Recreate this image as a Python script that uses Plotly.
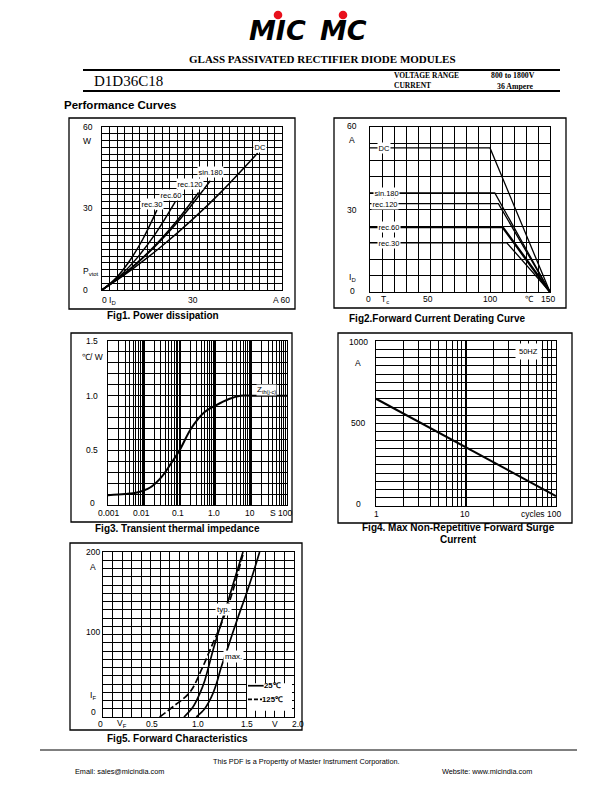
import numpy as np
import plotly.graph_objects as go

# The page body has an 8 px margin, so the figure starts at (8, 8) in the window.
OFF = 8
FW, FH = 612 - OFF, 792 - OFF


def px(v):
    return (v - OFF) / FW


def py(v):
    return 1 - (v - OFF) / FH


# ===================== DATA =====================
# Fig1 - Power dissipation: Pvtot (W) vs ID (A)
f1_dc_i = [0, 5, 10, 20, 30, 40, 51.9]
f1_dc_p = [0, 3.7, 7.6, 16.2, 25.8, 36.4, 50.4]
f1_sin180_i = [0, 9, 18, 27, 36.1]
f1_sin180_p = [0, 7.3, 16.4, 27.3, 40.2]
f1_rec120_i = [0, 8, 16, 24, 32.2]
f1_rec120_p = [0, 6.5, 14.5, 24.2, 35.9]
f1_rec60_i = [0, 6, 12, 18, 24.4]
f1_rec60_p = [0, 5.2, 12.2, 21.0, 32.4]
f1_rec30_i = [0, 4.5, 9, 13.5, 18.3]
f1_rec30_p = [0, 4.2, 10.4, 18.5, 29.4]
f1_names = ["rec.30", "rec.60", "rec.120", "sin.180", "DC"]

# Fig2 - Forward current derating: ID (A) vs Tc (C)
f2_dc_t = [0, 100, 150]
f2_dc_i = [52.4, 52.4, 0]
f2_sin180_t = [0, 104, 150]
f2_sin180_i = [36.0, 36.0, 0]
f2_rec120_t = [0, 107, 150]
f2_rec120_i = [32.1, 32.1, 0]
f2_rec60_t = [0, 110.5, 150]
f2_rec60_i = [23.6, 23.6, 0]
f2_rec30_t = [0, 114, 150]
f2_rec30_i = [17.9, 17.9, 0]
f2_names = ["DC", "sin.180", "rec.120", "rec.60", "rec.30"]

# Fig3 - Transient thermal impedance Zth(j-c) (C/W) vs t (s)
f3_t = [0.001, 0.003, 0.0065, 0.015, 0.032, 0.055, 0.1, 0.21, 0.5, 1.0, 2.4, 5, 10, 100]
f3_z = [0.09, 0.10, 0.115, 0.16, 0.26, 0.37, 0.5, 0.7, 0.85, 0.91, 0.97, 1.0, 1.0, 1.0]

# Fig4 - Max non-repetitive forward surge current (A) vs cycles (50 Hz)
f4_n = [1, 2, 5, 10, 20, 50, 100]
f4_i = [650, 561, 444, 355, 266, 149, 60]

# Fig5 - Forward characteristics IF (A) vs VF (V)
f5_typ125_v = [0.593, 0.75, 0.91, 1.03, 1.134, 1.239, 1.344, 1.449, 1.473]
f5_typ125_i = [0, 14, 30, 57, 85, 113, 147, 190, 200]
f5_typ25_v = [0.848, 0.942, 1.012, 1.065, 1.106, 1.152, 1.204, 1.257, 1.326, 1.396, 1.466]
f5_typ25_i = [0, 12, 28, 44, 61, 81, 101, 121, 147, 174, 200]
f5_max25_v = [0.977, 1.065, 1.134, 1.187, 1.229, 1.274, 1.316, 1.361, 1.414, 1.501, 1.571, 1.64]
f5_max25_i = [0, 10, 24, 40, 57, 73, 87, 103, 121, 149.5, 174, 200]
f5_legend = ["25\u2103", "125\u2103"]

# Tick labels (text, axis value where it sits)
f1_xtick_text = ["0 I<sub>D</sub>", "30", "A 60"]
f1_xtick_pos = [2.3, 30.2, 59.7]
f1_ytick_text = ["60", "W", "30", "P<sub>vtot</sub>", "0"]
f1_ytick_pos = [60, 54.8, 30.2, 6.8, 0]

f2_xtick_text = ["0", "T<sub>c</sub>", "50", "100", "\u2103", "150"]
f2_xtick_pos = [0, 12.5, 48.6, 100, 132.5, 148.6]
f2_ytick_text = ["60", "A", "30", "I<sub>D</sub>", "0"]
f2_ytick_pos = [60, 55.3, 29.8, 5.3, 0.4]

f3_xtick_text = ["0.001", "0.01", "0.1", "1.0", "10", "S 100"]
f3_xtick_pos = [0.00105, 0.0088, 0.088, 0.9, 9.0, 70]
f3_ytick_text = ["1.5", "\u2103/ W", "1.0", "0.5", "0"]
f3_ytick_pos = [1.5, 1.35, 1.0, 0.5, 0.02]

f4_xtick_text = ["1", "10", "cycles 100"]
f4_xtick_pos = [1, 9.7, 67.8]
f4_ytick_text = ["1000", "A", "500", "0"]
f4_ytick_pos = [996, 865, 505, 12]

f5_xtick_text = ["0", "V<sub>F</sub>", "0.5", "1.0", "1.5", "V", "2.0"]
f5_xtick_pos = [0, 0.196, 0.51, 0.998, 1.505, 1.80, 2.0]
f5_ytick_text = ["200", "A", "100", "I<sub>F</sub>", "0"]
f5_ytick_pos = [200, 182, 103, 26.6, 6.4]

# ===================== FIGURE =====================
SANS = "Liberation Sans"
SERIF = "Liberation Serif"
TICK = 8.5
LAB = 7.5
CAP = 10
fig = go.Figure()


def curve(x, y, ax, width=1.5, dash="solid", shape="spline"):
    fig.add_trace(go.Scatter(
        x=x, y=y, mode="lines", xaxis="x" + ax, yaxis="y" + ax,
        line=dict(color="black", width=width, dash=dash, shape=shape),
        showlegend=False, hoverinfo="skip"))


# Fig1
curve(f1_dc_i, f1_dc_p, "")
curve(f1_sin180_i, f1_sin180_p, "")
curve(f1_rec120_i, f1_rec120_p, "")
curve(f1_rec60_i, f1_rec60_p, "")
curve(f1_rec30_i, f1_rec30_p, "")
# Fig2
curve(f2_dc_t, f2_dc_i, "2", 1.3, shape="linear")
curve(f2_sin180_t, f2_sin180_i, "2", 1.3, shape="linear")
curve(f2_rec120_t, f2_rec120_i, "2", 1.3, shape="linear")
curve(f2_rec60_t, f2_rec60_i, "2", 2.4, shape="linear")
curve(f2_rec30_t, f2_rec30_i, "2", 1.3, shape="linear")
# Fig3
curve(f3_t, f3_z, "3", 2)
# Fig4
curve(f4_n, f4_i, "4", 2, shape="linear")
# Fig5
curve(f5_typ125_v, f5_typ125_i, "5", 1.7, dash="7px,3px")
curve(f5_typ25_v, f5_typ25_i, "5", 1.7)
curve(f5_max25_v, f5_max25_i, "5", 1.7)


def dom_x(a, b):
    return [px(a), px(b)]


def dom_y(top, bottom):
    return [py(bottom), py(top)]


def lin_axis(domain, rng, step, anchor):
    return dict(domain=domain, range=rng, anchor=anchor,
                tickmode="array",
                tickvals=list(np.arange(rng[0], rng[1] + step / 2, step)),
                showticklabels=False, ticks="", showgrid=True,
                gridcolor="black", gridwidth=1, zeroline=False,
                showline=True, linecolor="black", linewidth=1, mirror=True,
                fixedrange=True)


def log_axis(domain, d0, d1, anchor):
    majors = [10.0 ** d for d in range(d0, d1 + 1)]
    minors = [k * 10.0 ** d for d in range(d0, d1) for k in range(2, 10)]
    return dict(domain=domain, type="log", range=[d0, d1], anchor=anchor,
                tickmode="array", tickvals=majors, showticklabels=False,
                ticks="", showgrid=True, gridcolor="black", gridwidth=1.6,
                zeroline=False, showline=True, linecolor="black",
                linewidth=1, mirror=True, fixedrange=True,
                minor=dict(tickmode="array", tickvals=minors, showgrid=True,
                           gridcolor="black", gridwidth=1, ticks=""))


layout_axes = dict(
    xaxis=lin_axis(dom_x(102, 282), [0, 60], 2.5, "y"),
    yaxis=lin_axis(dom_y(127, 290), [0, 60], 2.5, "x"),
    xaxis2=lin_axis(dom_x(370, 550), [0, 150], 10, "y2"),
    yaxis2=lin_axis(dom_y(127, 292), [0, 60], 6, "x2"),
    xaxis3=log_axis(dom_x(108, 287), -3, 2, "y3"),
    yaxis3=lin_axis(dom_y(341, 505), [0, 1.5], 0.1, "x3"),
    xaxis4=log_axis(dom_x(376, 556), 0, 2, "y4"),
    yaxis4=lin_axis(dom_y(341, 506), [0, 1000], 50, "x4"),
    xaxis5=lin_axis(dom_x(103, 294), [0, 2.0], 0.1, "y5"),
    yaxis5=lin_axis(dom_y(552, 717), [0, 200], 10, "x5"),
)

ann = []


def text(x, y, s, size=8, xref="paper", yref="paper", xanchor="center",
         yanchor="middle", family=SANS, bg=None, pad=1, xshift=0, yshift=0):
    d = dict(x=x, y=y, text=s, xref=xref, yref=yref, xanchor=xanchor,
             yanchor=yanchor, showarrow=False, borderpad=pad,
             xshift=xshift, yshift=yshift,
             font=dict(family=family, size=size, color="black"))
    if bg:
        d["bgcolor"] = bg
    ann.append(d)


# ---- header ----
text(px(277), py(31), "<b><i>MIC</i></b>", 27, family="DejaVu Sans")
text(px(343), py(31), "<b><i>MC</i></b>", 27, family="DejaVu Sans")
text(px(322), py(59), "<b>GLASS PASSIVATED RECTIFIER DIODE MODULES</b>", 11, family=SERIF)
text(px(92), py(81), "D1D36C18", 15, xanchor="left", family=SERIF)
text(px(392), py(75), "<b>VOLTAGE RANGE</b>", 7.5, xanchor="left", family=SERIF)
text(px(392), py(85.5), "<b>CURRENT</b>", 7.5, xanchor="left", family=SERIF)
text(px(513), py(75), "<b>800 to 1800V</b>", 7.8, family=SERIF)
text(px(515), py(86), "<b>36 Ampere</b>", 7.8, family=SERIF)
text(px(62), py(105), "<b>Performance Curves</b>", 11.5, xanchor="left")

# ---- footer ----
text(px(306), py(761), "This PDF is a Propertty of Master Instrument Corporation.", 7.3)
text(px(73), py(771), "Email: sales@micindia.com", 7.3, xanchor="left")
text(px(440), py(771), "Website: www.micindia.com", 7.3, xanchor="left")

# ---- captions ----
text(px(163), py(315), "<b>Fig1. Power dissipation</b>", CAP)
text(px(437), py(318), "<b>Fig2.Forward Current Derating Curve</b>", CAP)
text(px(177), py(528), "<b>Fig3. Transient thermal impedance</b>", CAP)
text(px(458), py(527), "<b>Fig4. Max Non-Repetitive Forward Surge</b>", CAP)
text(px(458), py(539.5), "<b>Current</b>", CAP)
text(px(177), py(738), "<b>Fig5. Forward Characteristics</b>", CAP)

# ---- tick labels ----
for s, v in zip(f1_xtick_text, f1_xtick_pos):
    text(v, py(300), s, TICK, xref="x")
for s, v in zip(f1_ytick_text, f1_ytick_pos):
    text(px(81), v, s, TICK, yref="y", xanchor="left")

f2_xshift = [-1, 0, 0, 0, 0, 0]
for s, v, sh in zip(f2_xtick_text, f2_xtick_pos, f2_xshift):
    text(v, py(299), s, TICK, xref="x2", xshift=sh)
for s, v in zip(f2_ytick_text, f2_ytick_pos):
    text(px(352), v, s, TICK, yref="y2", yshift=1 if s == "60" else 0)

for s, v in zip(f3_xtick_text, f3_xtick_pos):
    text(np.log10(v), py(513), s, TICK, xref="x3")
for s, v in zip(f3_ytick_text, f3_ytick_pos):
    text(px(92), v, s, TICK, yref="y3")

for s, v in zip(f4_xtick_text, f4_xtick_pos):
    text(np.log10(v), py(514), s, TICK, xref="x4")
for s, v in zip(f4_ytick_text, f4_ytick_pos):
    text(px(358), v, s, TICK, yref="y4")

f5_xshift = [-3, 0, 0, 0, 0, 0, 4]
for s, v, sh in zip(f5_xtick_text, f5_xtick_pos, f5_xshift):
    text(v, py(723.5), s, TICK, xref="x5", xshift=sh)
for s, v in zip(f5_ytick_text, f5_ytick_pos):
    text(px(93), v, s, TICK, yref="y5")

# ---- curve labels ----
f1_label_x = [16.7, 23.0, 29.3, 36.2, 52.7]
f1_label_y = [31.8, 35.0, 39.2, 43.6, 52.8]
for s, x, y in zip(f1_names, f1_label_x, f1_label_y):
    text(x, y, s, LAB, xref="x", yref="y", bg="white", pad=0.5)

f2_label_x = [11.7, 13.9, 12.5, 15.8, 16.1]
f2_label_y = [52.4, 36.0, 32.1, 23.6, 17.9]
for s, x, y in zip(f2_names, f2_label_x, f2_label_y):
    text(x, y, s, LAB, xref="x2", yref="y2", bg="white", pad=0.5)

text(1.42, 1.05, "Z<sub>th(j-c)</sub>", 8, xref="x3", yref="y3", bg="white", pad=0)
text(1.69, 935, "50HZ", 7.5, xref="x4", yref="y4", bg="white", pad=3)
text(1.262, 130.7, "typ.", 8, xref="x5", yref="y5", bg="white", pad=1)
text(1.366, 73, "max.", 8, xref="x5", yref="y5", bg="white", pad=1)
text(1.78, 37.9, "<b>" + f5_legend[0] + "</b>", 7.8, xref="x5", yref="y5")
text(1.775, 21.4, "<b>" + f5_legend[1] + "</b>", 7.8, xref="x5", yref="y5")

# ---- shapes ----
shapes = []


def box(x0, y0, x1, y1, w=1.3):
    shapes.append(dict(type="rect", xref="paper", yref="paper",
                       x0=px(x0), x1=px(x1), y0=py(y1), y1=py(y0),
                       line=dict(color="black", width=w)))


def hline(x0, x1, y, w):
    shapes.append(dict(type="line", xref="paper", yref="paper",
                       x0=px(x0), x1=px(x1), y0=py(y), y1=py(y),
                       line=dict(color="black", width=w)))


box(69, 118, 295, 309)
box(334, 118, 566, 308)
box(71, 333, 292, 522)
box(338, 333, 572, 523)
box(70, 543, 302, 730)
hline(83, 560, 70, 2.2)
hline(83, 560, 91, 2.2)
hline(40, 577, 750, 1)

for cx in (278, 343):
    shapes.append(dict(type="circle", xref="paper", yref="paper",
                       x0=px(cx - 4.3), x1=px(cx + 4.3), y0=py(19.3), y1=py(10.7),
                       fillcolor="#e8101c", line=dict(width=0)))

# Fig5 legend panel
shapes.append(dict(type="rect", xref="x5", yref="y5", x0=1.508, x1=1.979,
                   y0=7.6, y1=40.8, fillcolor="white", line=dict(width=0),
                   layer="above"))
shapes.append(dict(type="line", xref="x5", yref="y5", x0=1.518, x1=1.682,
                   y0=37.9, y1=37.9, line=dict(color="black", width=1.7),
                   layer="above"))
shapes.append(dict(type="line", xref="x5", yref="y5", x0=1.518, x1=1.665,
                   y0=21.4, y1=21.4, line=dict(color="black", width=1.7, dash="4px,2px"),
                   layer="above"))

fig.update_layout(
    width=FW, height=FH, margin=dict(l=0, r=0, t=0, b=0),
    paper_bgcolor="white", plot_bgcolor="white", showlegend=False,
    annotations=ann, shapes=shapes, **layout_axes)

fig.write_html("out.html")
